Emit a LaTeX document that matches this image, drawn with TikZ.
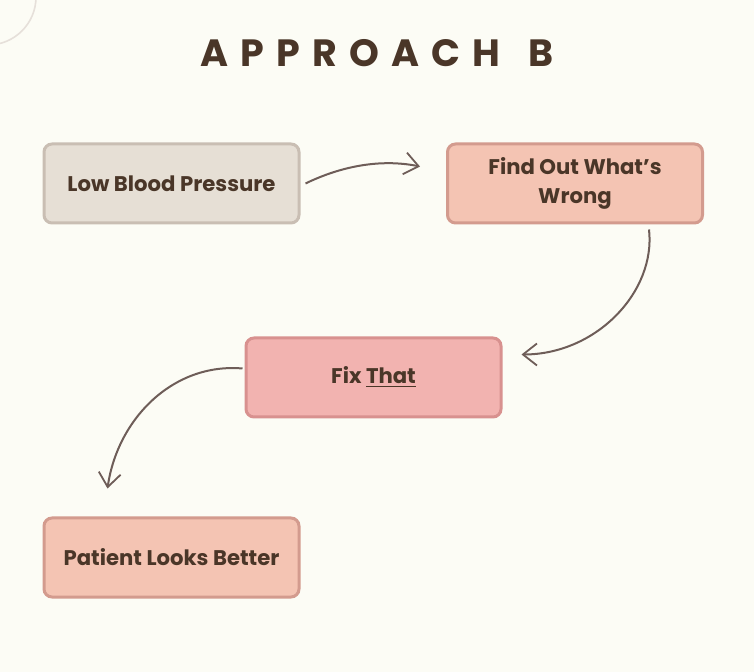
\documentclass[tikz,border=0pt]{standalone}
\usepackage{fontspec}
\setmainfont{Poppins}
\usepackage{xcolor}
\usepackage{tikz}
\usetikzlibrary{
arrows.meta,
positioning,
calc
}
\definecolor{ABCream}{HTML}{FCFCF5}
\definecolor{ABInk}{HTML}{4A3628}
\definecolor{ABLine}{HTML}{6E5D58}
\definecolor{ABStone}{HTML}{E6DFD5}
\definecolor{ABStoneEdge}{HTML}{C9BEB3}
\definecolor{ABPeach}{HTML}{F4C4B3}
\definecolor{ABPeachEdge}{HTML}{D39B8E}
\definecolor{ABRose}{HTML}{F2B3B0}
\definecolor{ABRoseEdge}{HTML}{D8918F}
\definecolor{ABCircle}{HTML}{E6E0DA}
\tikzset{
abbox/.style={rounded corners=4pt, line width=1.5pt, align=center,
  minimum width=127.5pt, minimum height=39.5pt, inner sep=2pt,
  font=\fontsize{10.6}{14.5}\selectfont\bfseries, text=ABInk},
abstone/.style={abbox, draw=ABStoneEdge, fill=ABStone},
abpeach/.style={abbox, draw=ABPeachEdge, fill=ABPeach},
abrose/.style={abbox, draw=ABRoseEdge, fill=ABRose},
abarrow/.style={-{Straight Barb[length=7pt, width=11pt, line width=0.9pt]}, line width=1pt, draw=ABLine},
abtitle/.style={font=\fontsize{19}{22}\selectfont\bfseries\addfontfeature{LetterSpace=32}, text=ABInk}
}
\begin{document}
\begin{tikzpicture}[x=0.5pt, y=-0.5pt]
\fill[ABCream] (0,0) rectangle (754,672);
\useasboundingbox (0,0) rectangle (754,672);
\draw[ABCircle, line width=0.8pt] (-12,-3) circle[radius=24pt];
\node[abtitle] (title) at (377,53) {APPROACH\hspace{4pt} B};
\node[abstone] (lbp) at (171.5,183.5) {Low Blood Pressure};
\node[abpeach] (fow) at (575,183.5) {Find Out What’s\\Wrong};
\node[abrose] (fix) at (373.5,377.5) {Fix \underline{That}};
\node[abpeach] (plb) at (171.5,557.5) {Patient Looks Better};
% curved links
\draw[abarrow] ([xshift=2.5pt]lbp.east) .. controls +(35,-17) and +(-40,-8) .. ([xshift=-13pt, yshift=8.5pt]fow.west);
\draw[abarrow] ([xshift=37pt, yshift=-2.5pt]fow.south) .. controls +(7,62) and +(75,0) .. ([xshift=9.5pt, yshift=11.5pt]fix.east);
\draw[abarrow] ([xshift=-1pt, yshift=4.5pt]fix.west) .. controls +(-69,-6) and +(10,-70) .. ([xshift=-32pt, yshift=14pt]plb.north);
\end{tikzpicture}
\end{document}
